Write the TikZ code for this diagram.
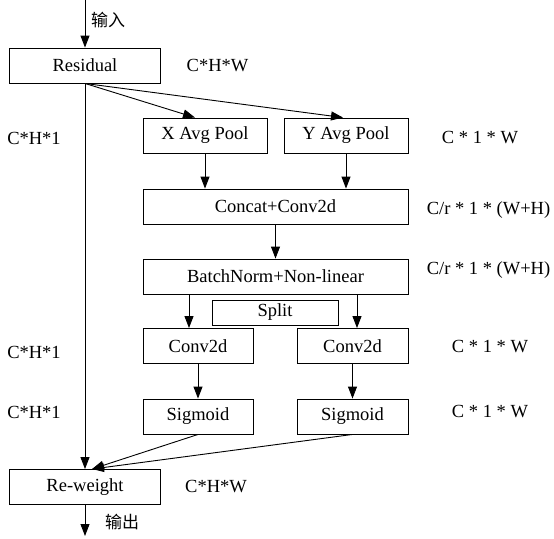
\documentclass[tikz,border=0pt]{standalone}
\usepackage{fontspec}
\setmainfont{Liberation Serif}
\newfontfamily\cjk{Noto Sans CJK SC}
\usetikzlibrary{arrows.meta}
\begin{document}
\begin{tikzpicture}[x=1pt,y=-1pt,
  box/.style={draw, line width=0.9pt, minimum height=35pt, inner sep=0pt, font=\fontsize{18.5}{22}\selectfont},
  lbl/.style={font=\fontsize{18.5}{22}\selectfont},
  zh/.style={font=\cjk\fontsize{17}{20}\selectfont},
  arr/.style={-{Triangle[length=12pt,width=9pt]}, line width=0.9pt}]
\useasboundingbox (0,0) rectangle (554,538);
% boxes
\node[box, minimum width=151pt] (res) at (85,65.5) {Residual};
\node[box, minimum width=124pt] (xp) at (205,135.5) {X Avg Pool};
\node[box, minimum width=124pt] (yp) at (346,135.5) {Y Avg Pool};
\node[box, minimum width=265pt] (cc) at (275.5,206.5) {Concat+Conv2d};
\node[box, minimum width=265pt] (bn) at (275.5,276.5) {BatchNorm+Non-linear};
\node[box, minimum width=126pt, minimum height=25pt] (sp) at (275,312.5) {Split};
\node[box, minimum width=110pt] (cl) at (198,346) {Conv2d};
\node[box, minimum width=111pt] (cr) at (352.5,346) {Conv2d};
\node[box, minimum width=110pt] (sl) at (198,416.5) {Sigmoid};
\node[box, minimum width=111pt] (sr) at (352.5,416.5) {Sigmoid};
\node[box, minimum width=151pt] (rw) at (85,487) {Re-weight};
% free ends
\coordinate (in) at (85,0);
\coordinate (out) at (85,536);
% labels
\node[zh] (lin) at (108,20) {输入};
\node[zh] (lout) at (122,522) {输出};
\node[lbl] (d1) at (217.5,65.5) {C*H*W};
\node[lbl] (d2) at (34,138) {C*H*1};
\node[lbl] (d3) at (480,138) {C * 1 * W};
\node[lbl] (d4) at (488.5,210) {C/r * 1 * (W+H)};
\node[lbl] (d5) at (488.5,270) {C/r * 1 * (W+H)};
\node[lbl] (d6) at (34,352) {C*H*1};
\node[lbl] (d7) at (34,412) {C*H*1};
\node[lbl] (d8) at (490,347) {C * 1 * W};
\node[lbl] (d9) at (490,412) {C * 1 * W};
\node[lbl] (d10) at (216,487) {C*H*W};
% connectors
\draw[arr] (in) -- (res.north);
\draw[arr] (res.south) -- ([xshift=-10pt]xp.north);
\draw[arr] (res.south) -- ([xshift=-3pt]yp.north);
\draw[arr] (res.south) -- (rw.north);
\draw[arr] (xp.south) -- (xp.south |- cc.north);
\draw[arr] (yp.south) -- (yp.south |- cc.north);
\draw[arr] (cc.south) -- (bn.north);
\draw[arr] ([xshift=-9pt]cl.north |- bn.south) -- ([xshift=-9pt]cl.north);
\draw[arr] ([xshift=4.5pt]cr.north |- bn.south) -- ([xshift=4.5pt]cr.north);
\draw[arr] (cl.south) -- (sl.north);
\draw[arr] (cr.south) -- (sr.north);
\draw[arr] (sl.south) -- ([xshift=7pt]rw.north);
\draw[arr] (sr.south) -- ([xshift=7pt]rw.north);
\draw[arr] (rw.south) -- (out);
\end{tikzpicture}
\end{document}
